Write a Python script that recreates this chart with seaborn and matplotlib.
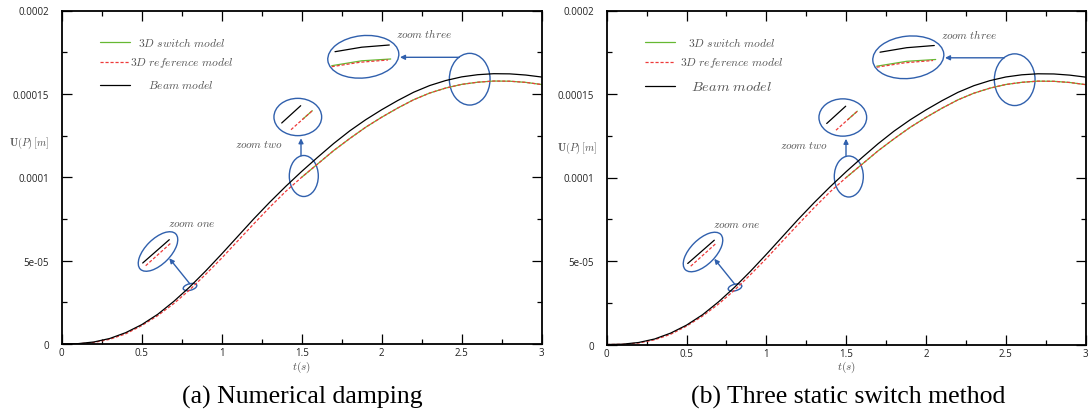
import numpy as np
import pandas as pd
import matplotlib
matplotlib.use("Agg")
import matplotlib.pyplot as plt
import seaborn as sns
import matplotlib.transforms as mtransforms
from matplotlib.patches import Ellipse, FancyArrowPatch
from matplotlib.lines import Line2D

# ---------------- data ----------------
t_full = [0.0, 0.1, 0.2, 0.3, 0.4, 0.5, 0.6, 0.7, 0.8, 0.9, 1.0,
          1.1, 1.2, 1.3, 1.4, 1.5, 1.6, 1.7, 1.8, 1.9, 2.0,
          2.1, 2.2, 2.3, 2.4, 2.5, 2.6, 2.7, 2.8, 2.9, 3.0]
beam_u = [0.0, 0.2e-6, 1.2e-6, 3.3e-6, 6.8e-6, 1.16e-5, 1.78e-5, 2.55e-5, 3.42e-5, 4.38e-5, 5.40e-5,
          6.45e-5, 7.50e-5, 8.50e-5, 9.45e-5, 1.035e-4, 1.120e-4, 1.2025e-4, 1.278e-4, 1.345e-4, 1.405e-4,
          1.460e-4, 1.510e-4, 1.550e-4, 1.580e-4, 1.602e-4, 1.615e-4, 1.621e-4, 1.620e-4, 1.613e-4, 1.601e-4]
ref_u = [0.0, 0.1e-6, 0.9e-6, 2.8e-6, 6.1e-6, 1.10e-5, 1.70e-5, 2.42e-5, 3.25e-5, 4.18e-5, 5.15e-5,
         6.18e-5, 7.20e-5, 8.20e-5, 9.15e-5, 1.000e-4, 1.080e-4, 1.160e-4, 1.232e-4, 1.300e-4, 1.360e-4,
         1.415e-4, 1.465e-4, 1.505e-4, 1.535e-4, 1.557e-4, 1.570e-4, 1.577e-4, 1.576e-4, 1.569e-4, 1.556e-4]
switch_t = [1.5, 1.6, 1.7, 1.8, 1.9, 2.0, 2.1, 2.2, 2.3, 2.4, 2.5, 2.6, 2.7, 2.8, 2.9, 3.0]
switch_u = [1.000e-4, 1.080e-4, 1.160e-4, 1.232e-4, 1.300e-4, 1.360e-4, 1.415e-4, 1.465e-4,
            1.505e-4, 1.535e-4, 1.557e-4, 1.570e-4, 1.577e-4, 1.576e-4, 1.569e-4, 1.556e-4]

xticks = [0, 0.5, 1, 1.5, 2, 2.5, 3]
xtick_labels = ["0", "0.5", "1", "1.5", "2", "2.5", "3"]
yticks = [0, 5e-5, 1e-4, 1.5e-4, 2e-4]
ytick_labels = ["0", "5e-05", "0.0001", "0.00015", "0.0002"]
captions = ["(a) Numerical damping", "(b) Three static switch method"]
legend_labels = [r"$3D\ switch\ model$", r"$3D\ reference\ model$", r"$Beam\ model$"]
zoom_labels = [r"$zoom\ one$", r"$zoom\ two$", r"$zoom\ three$"]

# ---------------- style ----------------
sns.set_theme(style="ticks")
plt.rcParams["font.family"] = ["Open Sans", "DejaVu Sans"]

GREEN = "#66b832"
RED = "#ee3a3a"
BLUE = "#3060ad"
GRAY = "#555555"

W, H, DPI = 1091, 414, 100
fig = plt.figure(figsize=(W / DPI, H / DPI), dpi=DPI)
fig.patch.set_facecolor("white")

ax_rects = [
    [61.7 / W, 1 - 345.0 / H, 480.0 / W, 333.5 / H],
    [606.7 / W, 1 - 345.5 / H, 479.0 / W, 334.0 / H],
]

df_beam = pd.DataFrame({"t": t_full, "u": beam_u})
df_ref = pd.DataFrame({"t": t_full, "u": ref_u})
df_sw = pd.DataFrame({"t": switch_t, "u": switch_u})


def decorate(ax, legend_x, legend_y, beam_size, ylab_pos):
    trans = fig.dpi_scale_trans + mtransforms.ScaledTranslation(0, 0, ax.transAxes)

    def P(x, y):
        return (x / DPI, y / DPI)

    def seg(pts, **kw):
        xs = [p[0] / DPI for p in pts]
        ys = [p[1] / DPI for p in pts]
        ax.add_line(Line2D(xs, ys, transform=trans, clip_on=False, **kw))

    def ell(c, w, h, ang=0):
        ax.add_patch(Ellipse(P(*c), w / DPI, h / DPI, angle=ang, fill=False,
                             edgecolor=BLUE, lw=1.0, transform=trans, clip_on=False))

    def arrow(a, b):
        ax.add_patch(FancyArrowPatch(P(*a), P(*b), arrowstyle="-|>", mutation_scale=7,
                                     color=BLUE, lw=1.0, transform=trans, clip_on=False,
                                     shrinkA=0, shrinkB=0))

    def txt(x, y, s, size, color=GRAY):
        ax.text(x / DPI, y / DPI, s, transform=trans, ha="center", va="center",
                fontsize=size, color=color, math_fontfamily="cm")

    # legend
    ys = legend_y
    seg([(38.3, ys[0]), (68.3, ys[0])], color=GREEN, lw=0.9)
    seg([(38.3, ys[1]), (68.3, ys[1])], color=RED, lw=0.9, dashes=(2.5, 1.5))
    seg([(38.3, ys[2]), (68.3, ys[2])], color="black", lw=0.9)
    txt(legend_x, ys[0], legend_labels[0], 8.3)
    txt(legend_x, ys[1], legend_labels[1], 8.3)
    txt(legend_x, ys[2], legend_labels[2], beam_size)

    # zoom one
    ell((128.3, 57.0), 14, 6.5, 15)
    ell((96.3, 92.5), 50, 25, 45)
    seg([(81, 81), (107.6, 104.3)], color="black", lw=0.9)
    seg([(84, 78.3), (110, 101.7)], color=RED, lw=0.9, dashes=(2.5, 1.5))
    arrow((128.3, 60), (107.6, 85.7))
    txt(130, 120, zoom_labels[0], 8)

    # zoom two
    ell((242.1, 168.0), 29, 41)
    ell((236.1, 227.0), 47.7, 37.3)
    seg([(220, 221), (239, 238.3)], color="black", lw=0.9)
    seg([(241.0, 224.8), (250.6, 233.3)], color=GREEN, lw=0.9)
    seg([(229.3, 214.3), (250.6, 233.3)], color=RED, lw=0.9, dashes=(2.5, 1.5))
    arrow((239.3, 188.3), (239.3, 205.7))
    txt(197.3, 199, zoom_labels[1], 8)

    # zoom three
    ell((408.0, 264.8), 40.7, 51.7)
    ell((301.6, 287.2), 71.3, 42.3, 6)
    seg([(273.3, 292.3), (300, 296.8), (327.6, 299)], color="black", lw=0.9)
    seg([(270, 278.3), (300, 283.2), (329, 285)], color=GREEN, lw=0.9)
    seg([(270, 277.3), (298, 281.7), (326.3, 284)], color=RED, lw=0.9, dashes=(2.5, 1.5))
    arrow((397.6, 286.7), (338.3, 286.7))
    txt(362.8, 310, zoom_labels[2], 8)

    # axis labels
    txt(ylab_pos[0], ylab_pos[1], r"$\mathbf{U}(P)\,[m]$", 7.5)
    txt(240, -22, r"$t(s)$", 8)


for i, rect in enumerate(ax_rects):
    ax = fig.add_axes(rect)
    sns.lineplot(data=df_sw, x="t", y="u", ax=ax, color=GREEN, lw=0.9,
                 estimator=None, sort=False, legend=False)
    sns.lineplot(data=df_ref, x="t", y="u", ax=ax, color=RED, lw=0.9,
                 estimator=None, sort=False, legend=False, linestyle=(0, (2.5, 1.5)))
    sns.lineplot(data=df_beam, x="t", y="u", ax=ax, color="black", lw=0.9,
                 estimator=None, sort=False, legend=False)
    ax.set_xlim(0, 3)
    ax.set_ylim(0, 2e-4)
    ax.set_xticks(xticks)
    ax.set_xticklabels(xtick_labels)
    ax.set_yticks(yticks)
    ax.set_yticklabels(ytick_labels)
    ax.set_xticks(np.arange(0.25, 3.0, 0.5), minor=True)
    ax.set_yticks([2.5e-5, 7.5e-5, 1.25e-4, 1.75e-4], minor=True)
    ax.set_xlabel("")
    ax.set_ylabel("")
    ax.tick_params(which="both", direction="in", top=True, right=True,
                   labelsize=7, labelcolor="#222222", color="black", width=0.9)
    ax.tick_params(which="major", length=7)
    ax.tick_params(which="minor", length=3.5)
    ax.tick_params(axis="x", which="major", pad=2.5)
    ax.tick_params(axis="y", which="major", pad=9)
    for sp in ax.spines.values():
        sp.set_visible(True)
        sp.set_linewidth(1.3)
        sp.set_color("black")
    ax.set_facecolor("white")
    if i == 0:
        decorate(ax, 119.6, [301.7, 282.0, 259.0], 8.3, (-32.7, 202))
    else:
        decorate(ax, 125.3, [302.2, 282.2, 258.2], 10.3, (-30.0, 197.5))

fig.text(302 / W, 1 - 397 / H, captions[0], ha="center", va="center",
         fontsize=18.5, family="Liberation Serif", color="black")
fig.text(848 / W, 1 - 397 / H, captions[1], ha="center", va="center",
         fontsize=18.5, family="Liberation Serif", color="black")

fig.savefig("out.png", dpi=DPI)
